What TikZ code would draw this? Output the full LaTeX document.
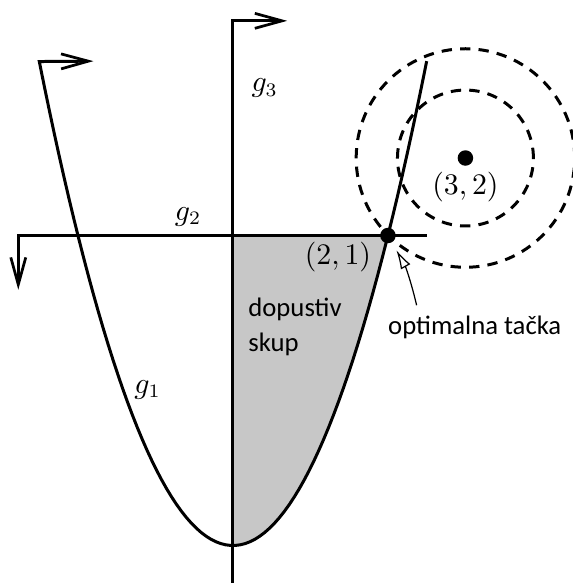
\documentclass[tikz,border=0pt]{standalone}
\usepackage{fontspec}
\newfontfamily\calibri{Carlito}
\usetikzlibrary{arrows.meta}
\newcommand{\mlabel}[4]{\node[mtext] (#1) at (#2,#3) {$#4$};}
\newcommand{\snote}[5]{\node[note,anchor=#4] (#1) at (#2,#3) {#5};}

\begin{document}
\begin{tikzpicture}[line width=1.1pt,
  barb/.style={-{Straight Barb[length=10pt,width=5.5pt,line width=1pt]}},
  ring/.style={dash pattern=on 3.8pt off 3pt},
  spot/.style={circle,fill=black,inner sep=0pt,minimum size=2mm},
  mtext/.style={font=\fontsize{10.7}{13}\selectfont},
  note/.style={inner sep=0pt,align=left,font=\calibri\fontsize{9.8}{12.6}\selectfont},
  pointer/.style={line width=0.45pt,-{Latex[open,length=7pt,width=4pt]}}]
\useasboundingbox (-3.006,-3.484) rectangle (4.387,4.039);

% feasible set
\fill[black!22] (0,1) -- (2,1) -- plot[domain=2:0,samples=40] (\x,{\x*\x-3}) -- cycle;

% constraints
\draw[barb] (0,-3.484) -- (0,3.77) -- (0.70,3.77);
\draw[barb] (2.5,1) -- (-2.77,1) -- (-2.77,0.30);
\draw[barb] plot[domain=2.5:-2.5,samples=80] (\x,{\x*\x-3}) -- (-1.80,3.25);

% level sets
\draw[ring] (3,2) circle (0.877);
\draw[ring] (3,2) circle (1.41);

\node[spot] (p32) at (3,2) {};
\node[spot] (p21) at (2,1) {};

\mlabel{l32}{3}{1.626}{(3,2)}
\mlabel{l21}{1.355}{0.72}{(2,1)}
\mlabel{g3}{0.41}{2.90}{g_3}
\mlabel{g2}{-0.58}{1.24}{g_2}
\mlabel{g1}{-1.10}{-0.99}{g_1}

\snote{skup}{0.18}{-0.18}{west}{dopustiv\\skup}
\snote{opt}{3.12}{-0.19}{center}{optimalna tačka}

\coordinate (tail) at (2.37,0.10);
\draw[pointer,shorten >=2.8pt] (tail) to[bend right=8] (p21);
\end{tikzpicture}
\end{document}
